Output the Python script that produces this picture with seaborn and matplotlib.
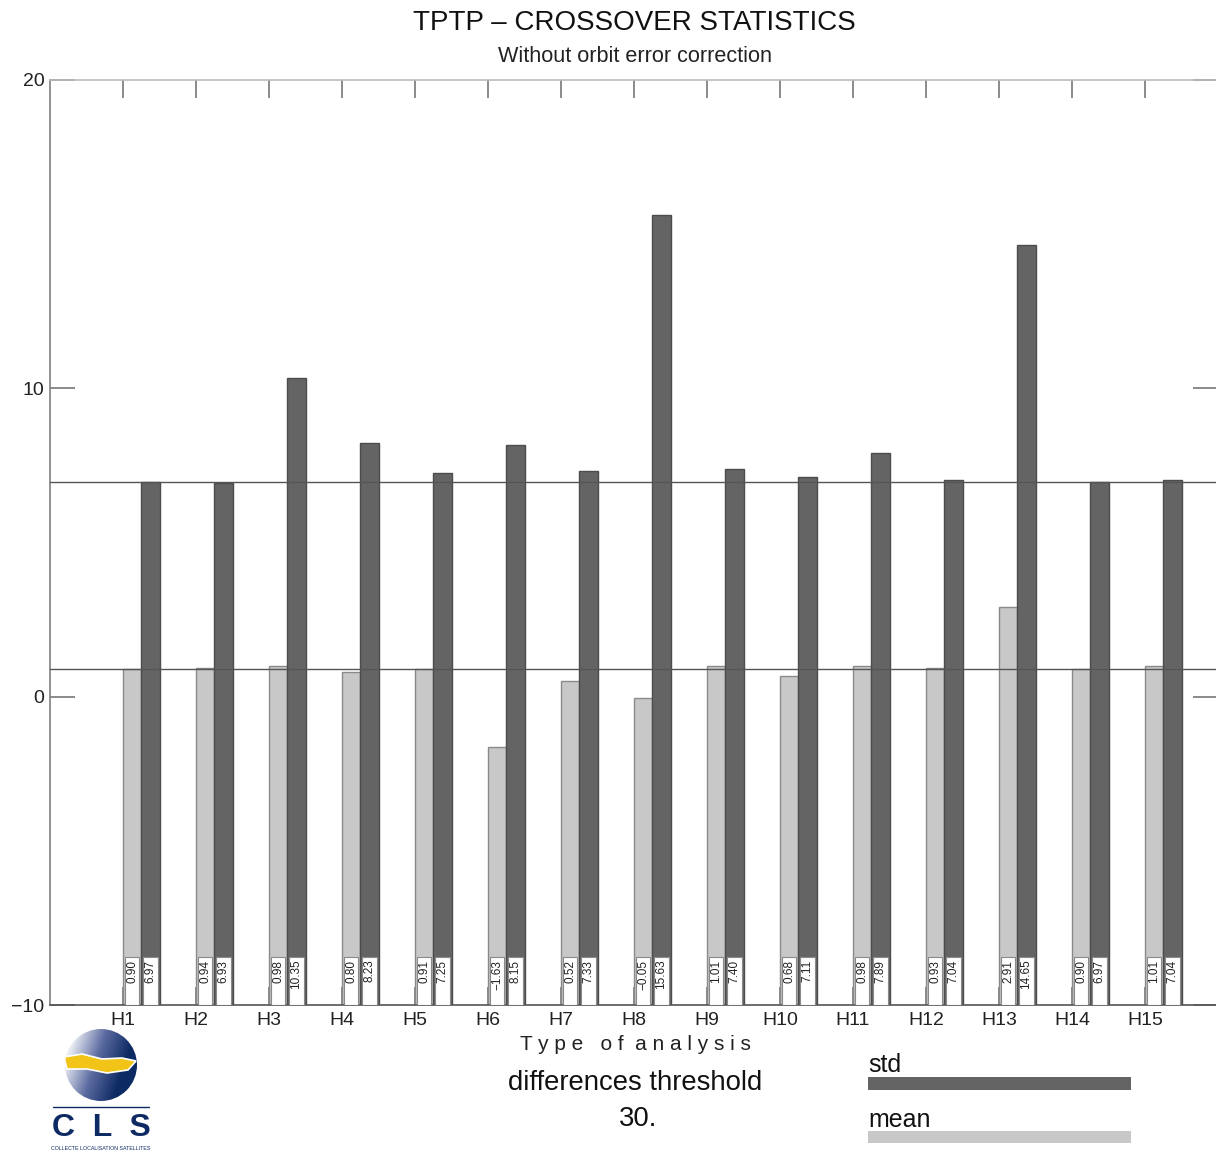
import numpy as np
import pandas as pd
import matplotlib
matplotlib.use("Agg")
import matplotlib.pyplot as plt
from matplotlib.patches import Rectangle, Circle, Polygon
import seaborn as sns

# values
analysis = ["H1", "H2", "H3", "H4", "H5", "H6", "H7", "H8",
            "H9", "H10", "H11", "H12", "H13", "H14", "H15"]
mean_vals = [0.90, 0.94, 0.98, 0.80, 0.91, -1.63, 0.52, -0.05,
             1.01, 0.68, 0.98, 0.93, 2.91, 0.90, 1.01]
std_vals = [6.97, 6.93, 10.35, 8.23, 7.25, 8.15, 7.33, 15.63,
            7.40, 7.11, 7.89, 7.04, 14.65, 6.97, 7.04]
y_ticks = [-10, 0, 10, 20]
threshold = "30."

STD_COL = "#646464"
MEAN_COL = "#c8c8c8"
BASE = -10

sns.set_theme(style="white")
plt.rcParams["font.family"] = ["Liberation Sans", "DejaVu Sans"]

W, H = 1216, 1153
fig = plt.figure(figsize=(W / 100, H / 100), dpi=100)


def fx(px):
    return px / W


def fy(py):
    return 1 - py / H


ax = fig.add_axes([fx(50), fy(1005), fx(1218) - fx(50), fy(80) - fy(1005)])

df = pd.DataFrame({
    "analysis": analysis * 2,
    "stat": ["mean"] * len(analysis) + ["std"] * len(analysis),
    "value": mean_vals + std_vals,
})

sns.barplot(data=df, x="analysis", y="value", hue="stat",
            hue_order=["mean", "std"], order=analysis,
            palette={"mean": MEAN_COL, "std": STD_COL},
            width=0.5, gap=0, legend=False, ax=ax, saturation=1)

# bars start at the bottom of the axis (-10)
for p in ax.patches:
    h = p.get_height()
    p.set_y(BASE)
    p.set_height(h - BASE)
    fc = p.get_facecolor()
    p.set_edgecolor("#8a8a8a" if fc[0] > 0.6 else "#4c4c4c")
    p.set_linewidth(1.0)

# value labels in white boxes at the bottom of each bar
for p in list(ax.patches):
    x0 = p.get_x()
    w = p.get_width()
    val = p.get_y() + p.get_height()
    ax.add_patch(Rectangle((x0 + 0.025, BASE), w - 0.05, 1.55,
                           facecolor="white", edgecolor="#8a8a8a",
                           linewidth=0.8, zorder=3))
    ax.text(x0 + w / 2, BASE + 1.47, f"{val:.2f}".replace("-", "\u2212"),
            rotation=90, ha="center", va="top", fontsize=8.5,
            color="#222222", zorder=4)

# reference lines at the H1 values
ax.axhline(std_vals[0], color="#555555", lw=1.0, zorder=5)
ax.axhline(mean_vals[0], color="#555555", lw=1.0, zorder=5)

n = len(analysis)
ax.set_xlim(-1.25, n - 0.25)
ax.set_ylim(-10, 20)
ax.set_xticks([i - 0.25 for i in range(n)])
ax.set_xticklabels(analysis, fontsize=14, color="#222222")
ax.set_yticks(y_ticks)
ax.set_yticklabels([str(t).replace("-", "\u2212") for t in y_ticks],
                   fontsize=14, color="#222222")
ax.set_xlabel("")
ax.set_ylabel("")
ax.tick_params(axis="x", direction="in", length=13, width=1.2,
               color="#777777", top=True, bottom=True, pad=5)
ax.tick_params(axis="y", direction="in", length=18, width=1.2,
               color="#777777", left=True, right=True, pad=4)
for side, col in [("top", "#bbbbbb"), ("left", "#808080"),
                  ("bottom", "#555555"), ("right", "#bbbbbb")]:
    ax.spines[side].set_color(col)
    ax.spines[side].set_linewidth(1.2)

# titles and captions
fig.text(fx(634), fy(23), "TPTP \u2013 CROSSOVER STATISTICS", ha="center",
         va="center", fontsize=20, color="#111111")
fig.text(fx(635), fy(57), "Without orbit error correction", ha="center",
         va="center", fontsize=15.6, color="#222222")
fig.text(fx(635), fy(1045), "T y p e   o f  a n a l y s i s", ha="center",
         va="center", fontsize=15, color="#222222")
fig.text(fx(635), fy(1083), "differences threshold", ha="center",
         va="center", fontsize=19.8, color="#111111")
fig.text(fx(638), fy(1119), threshold, ha="center", va="center",
         fontsize=19.8, color="#111111")

# legend
fig.text(fx(868), fy(1065), "std", ha="left", va="center", fontsize=18,
         color="#111111")
fig.patches.append(Rectangle((fx(868), fy(1090)), fx(1131) - fx(868),
                             fy(1077) - fy(1090), transform=fig.transFigure,
                             facecolor=STD_COL, edgecolor="none"))
fig.text(fx(868), fy(1120), "mean", ha="left", va="center", fontsize=18,
         color="#111111")
fig.patches.append(Rectangle((fx(868), fy(1143)), fx(1131) - fx(868),
                             fy(1131) - fy(1143), transform=fig.transFigure,
                             facecolor=MEAN_COL, edgecolor="none"))

# CLS logo
lax = fig.add_axes([fx(52), fy(1155), fx(150) - fx(52), fy(1028) - fy(1155)])
lax.set_xlim(0, 98)
lax.set_ylim(0, 127)
lax.set_aspect("equal")
lax.axis("off")
circ = Circle((49, 90), 36, transform=lax.transData)
gx, gy = np.meshgrid(np.linspace(0, 1, 200), np.linspace(0, 1, 200))
grad = np.clip(1.2 * gx - 0.2 + 0.4 * (1 - gy), 0, 1)
im = lax.imshow(grad, extent=(13, 85, 54, 126), origin="lower",
                cmap=matplotlib.colors.LinearSegmentedColormap.from_list(
                    "cls", ["#e8ebf3", "#5b6aa0", "#0d2a63"]), zorder=1)
im.set_clip_path(circ)
band = Polygon([(12, 98), (30, 101), (50, 96), (70, 97), (84, 94),
                (76, 85), (55, 82), (35, 86), (15, 86)],
               facecolor="#f2c417", edgecolor="white", lw=1.2, zorder=2)
lax.add_patch(band)
band.set_clip_path(circ)
lax.plot([1, 97], [48, 48], color="#0d2a63", lw=1)
lax.text(49, 27, "C  L  S", ha="center", va="center", fontsize=23,
         color="#0d2a63", fontweight="bold")
lax.text(49, 7, "COLLECTE LOCALISATION SATELLITES", ha="center",
         va="center", fontsize=3.8, color="#0d2a63")

fig.savefig("out.png", dpi=100)
